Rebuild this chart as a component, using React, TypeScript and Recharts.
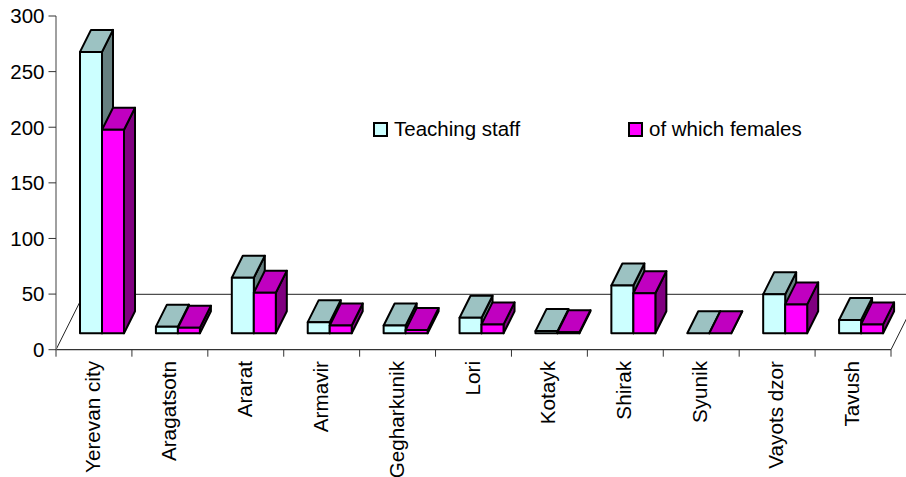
import { BarChart, Bar, XAxis, YAxis, Legend } from "recharts";

const REGIONS = [
  "Yerevan city", "Aragatsotn", "Ararat", "Armavir", "Gegharkunik", "Lori",
  "Kotayk", "Shirak", "Syunik", "Vayots dzor", "Tavush",
];
const TEACHING_STAFF = [253, 6, 50, 10, 7, 14, 2, 43, 0, 35, 12];
const FEMALES = [183, 5, 36.5, 7, 3, 8, 1, 36, 0, 26, 8];
const Y_TICKS = [0, 50, 100, 150, 200, 250, 300];

const data = REGIONS.map((name, i) => ({
  name,
  staff: TEACHING_STAFF[i],
  females: FEMALES[i],
}));

const WIDTH = 906;
const HEIGHT = 477;
const LEFT = 56;
const RIGHT = 891;
const TOP = 16;
const BOTTOM = 349.7;
const BACK = 294.3;
const STEP = (RIGHT - LEFT) / REGIONS.length;
const FONT = "'Liberation Sans', Arial, sans-serif";

function Bar3D({ x, y, width, height, front, top, side }: any) {
  // bars stand a little behind the front edge of the floor
  const x0 = x + 8;
  const y0 = y - 16.4;
  const x1 = x0 + width;
  const y1 = y0 + height;
  const dx = 11;
  const dy = 22;
  const common = { stroke: "#000", strokeWidth: 2, strokeLinejoin: "round" as const };
  return (
    <g>
      <polygon points={`${x1},${y0} ${x1 + dx},${y0 - dy} ${x1 + dx},${y1 - dy} ${x1},${y1}`} fill={side} {...common} />
      <polygon points={`${x0},${y0} ${x0 + dx},${y0 - dy} ${x1 + dx},${y0 - dy} ${x1},${y0}`} fill={top} {...common} />
      <rect x={x0} y={y0} width={width} height={height} fill={front} {...common} />
    </g>
  );
}

function RegionTick({ x, index, payload }: any) {
  const line = (lx: number, key: string) => (
    <line key={key} x1={lx} x2={lx} y1={BOTTOM} y2={BOTTOM + 7} stroke="#333" strokeWidth={1} />
  );
  const tx = x + 6;
  const ty = BOTTOM + 11.3;
  return (
    <g>
      {line(x - STEP / 2, "l")}
      {index === REGIONS.length - 1 && line(x + STEP / 2, "r")}
      <text
        transform={`rotate(-90 ${tx} ${ty})`}
        x={tx}
        y={ty}
        textAnchor="end"
        fontFamily={FONT}
        fontSize={20.7}
        fill="#000"
      >
        {payload.value}
      </text>
    </g>
  );
}

function LegendBox({ payload }: any) {
  const lefts = [373, 628];
  return (
    <div style={{ position: "relative", width: WIDTH, height: 30 }}>
      {(payload ?? []).map((item: any, i: number) => (
        <div
          key={item.value}
          style={{
            position: "absolute",
            left: lefts[i],
            top: 0,
            display: "flex",
            alignItems: "center",
            whiteSpace: "nowrap",
            fontFamily: FONT,
            fontSize: 20.5,
            color: "#000",
            lineHeight: "26px",
          }}
        >
          <span
            style={{
              display: "inline-block",
              width: 11,
              height: 11,
              marginRight: 6,
              background: item.color,
              border: "2px solid #000",
            }}
          />
          {item.value}
        </div>
      ))}
    </div>
  );
}

export default function App() {
  return (
    <div style={{ position: "absolute", left: 0, top: 0, width: WIDTH, height: HEIGHT, overflow: "hidden", background: "#fff" }}>
      <BarChart
        width={WIDTH}
        height={HEIGHT}
        data={data}
        margin={{ top: TOP, right: WIDTH - RIGHT, bottom: 0, left: 0 }}
        barGap={0}
        barSize={22}
      >
        <g>
          <line x1={LEFT + 27.7} x2={WIDTH} y1={BACK} y2={BACK} stroke="#222" strokeWidth={1} />
          <line x1={LEFT} x2={LEFT + 27.7} y1={BOTTOM} y2={BACK} stroke="#222" strokeWidth={1} />
          <line x1={RIGHT} x2={RIGHT + 27.7} y1={BOTTOM} y2={BACK} stroke="#222" strokeWidth={1} />
        </g>
        <XAxis
          dataKey="name"
          interval={0}
          height={HEIGHT - BOTTOM}
          axisLine={{ stroke: "#333", strokeWidth: 1.2 }}
          tickLine={false}
          tick={<RegionTick />}
        />
        <YAxis
          width={LEFT}
          domain={[0, 300]}
          ticks={Y_TICKS}
          interval={0}
          tickSize={7.5}
          tickMargin={4}
          axisLine={{ stroke: "#808080", strokeWidth: 1.5 }}
          tickLine={{ stroke: "#333", strokeWidth: 1 }}
          tick={{ fontFamily: FONT, fontSize: 20.5, fill: "#000" }}
        />
        <Legend
          content={<LegendBox />}
          verticalAlign="middle"
          wrapperStyle={{ position: "absolute", left: 0, top: 116, width: WIDTH }}
        />
        <Bar
          dataKey="staff"
          name="Teaching staff"
          fill="#CCFFFF"
          isAnimationActive={false}
          shape={<Bar3D front="#CCFFFF" top="#9CC2C2" side="#668080" />}
        />
        <Bar
          dataKey="females"
          name="of which females"
          fill="#FF00FF"
          isAnimationActive={false}
          shape={<Bar3D front="#FF00FF" top="#C000C0" side="#800080" />}
        />
      </BarChart>
    </div>
  );
}
